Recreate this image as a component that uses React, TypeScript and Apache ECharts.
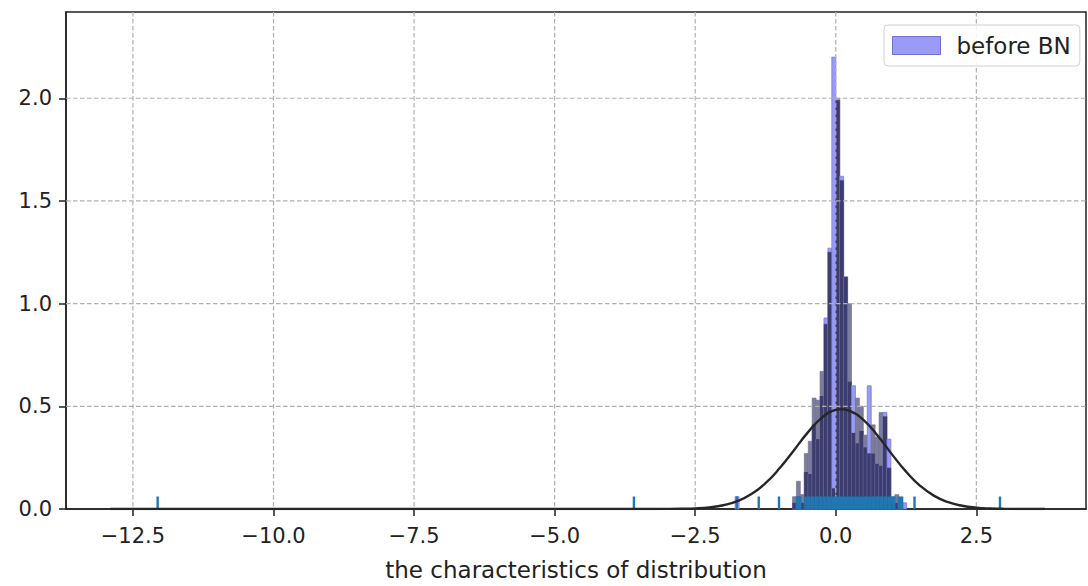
import React, { useEffect, useRef } from 'react';
import * as echarts from 'echarts';

const xTicks = [-12.5, -10, -7.5, -5, -2.5, 0, 2.5];
const yTicks = [0, 0.5, 1, 1.5, 2];
const binWidth = 0.07;
const binStarts = [
  -1.79,
  -0.77, -0.7, -0.63, -0.56, -0.49, -0.42, -0.35, -0.28, -0.21, -0.14, -0.07,
  0.0, 0.07, 0.14, 0.21, 0.28, 0.35, 0.42, 0.49, 0.56, 0.63, 0.7, 0.77, 0.84,
  0.91, 0.98, 1.05, 1.12, 1.19,
];
const blueHeights = [
  0.06,
  0.03, 0.06, 0.03, 0.18, 0.17, 0.41, 0.34, 0.55, 0.93, 1.27, 2.2,
  2.0, 1.62, 1.13, 0.62, 0.6, 0.32, 0.38, 0.3, 0.6, 0.27, 0.22, 0.21, 0.47,
  0.34, 0.04, 0.03, 0.03, 0.03,
];
const grayHeights = [
  0.0,
  0.06, 0.135, 0.07, 0.27, 0.33, 0.54, 0.53, 0.67, 0.9, 1.25, 0.1,
  1.99, 1.6, 1.13, 1.0, 0.37, 0.54, 0.5, 0.36, 0.27, 0.41, 0.35, 0.47, 0.45,
  0.2, 0.06, 0.07, 0.03, 0.0,
];
const rugValues = [
  -12.06, -3.59, -1.76, -1.37, -1.01,
  -0.69, -0.66, -0.63, -0.54, -0.5, -0.47, -0.43, -0.4, -0.36, -0.33, -0.29,
  -0.26, -0.22, -0.19, -0.15, -0.12, -0.08, -0.05, -0.01, 0.02, 0.06, 0.09,
  0.13, 0.16, 0.2, 0.23, 0.27, 0.3, 0.34, 0.38, 0.41, 0.45, 0.48, 0.52, 0.55,
  0.59, 0.62, 0.66, 0.69, 0.73, 0.76, 0.8, 0.83, 0.87, 0.9, 0.94, 0.97, 1.01,
  1.04, 1.12, 1.15, 1.18, 1.4, 2.92,
];
const fitX = [
  -12.9, -4.0, -3.5, -3.0, -2.75, -2.5, -2.25, -2.0, -1.75, -1.5, -1.25, -1.0,
  -0.75, -0.5, -0.25, 0.0, 0.1, 0.25, 0.5, 0.75, 1.0, 1.25, 1.5, 1.75, 2.0,
  2.25, 2.5, 2.75, 3.0, 3.5, 3.72,
];
const fitY = [
  0, 0, 0, 0.0004, 0.0012, 0.0032, 0.008, 0.0183, 0.0382, 0.0725, 0.1255, 0.198,
  0.284, 0.372, 0.444, 0.483, 0.4865, 0.478, 0.432, 0.355, 0.266, 0.182, 0.113,
  0.064, 0.0332, 0.0157, 0.0067, 0.0025, 0.0008, 0, 0,
];

const FONT = 'DejaVu Sans';
const TEXT = '#222222';
const fmt = (v: number) => (v < 0 ? '\u2212' : '') + Math.abs(v).toFixed(1);

export default function App() {
  const ref = useRef<HTMLDivElement>(null);
  useEffect(() => {
    document.body.style.margin = '0';
    if (!ref.current) return;
    const chart = echarts.init(ref.current, null, { renderer: 'svg' });
    const rectOf = (api: any, x0: number, h: number) => {
      const p0 = api.coord([x0, 0]);
      const p1 = api.coord([x0 + binWidth, h]);
      return { x: p0[0], y: p1[1], width: p1[0] - p0[0], height: p0[1] - p1[1] };
    };
    chart.setOption({
      animation: false,
      grid: {
        left: 66, top: 12, width: 1020, height: 501,
        show: true, borderColor: '#222', borderWidth: 1.5, backgroundColor: 'transparent',
      },
      legend: {
        left: 884, top: 25,
        padding: [9, 9, 9, 8],
        itemWidth: 48, itemHeight: 18,
        borderColor: '#d0d0d0', borderWidth: 1, borderRadius: 4,
        backgroundColor: 'rgba(255,255,255,0.85)',
        textStyle: { fontFamily: FONT, fontSize: 23, color: TEXT, padding: [0, 0, 0, 11] },
        data: [{ name: 'before BN', icon: 'rect', itemStyle: { color: '#9a9af8', borderColor: '#6f6fd0', borderWidth: 1 } }],
      },
      xAxis: {
        type: 'value', min: -13.69, max: 4.45,
        axisLine: { show: true, onZero: false, lineStyle: { color: '#222', width: 1.5 } },
        axisTick: { show: true, customValues: xTicks, length: 7, lineStyle: { color: '#222', width: 1.5 } },
        axisLabel: { customValues: xTicks, formatter: fmt, fontFamily: FONT, fontSize: 21, color: TEXT, margin: 16 },
        splitLine: { show: false },
        name: 'the characteristics of distribution',
        nameLocation: 'middle', nameGap: 49,
        nameTextStyle: { fontFamily: FONT, fontSize: 23, color: TEXT },
      },
      yAxis: {
        type: 'value', min: 0, max: 2.42,
        axisLine: { show: true, onZero: false, lineStyle: { color: '#222', width: 1.5 } },
        axisTick: { show: true, customValues: yTicks, length: 7, lineStyle: { color: '#222', width: 1.5 } },
        axisLabel: { customValues: yTicks, formatter: (v: number) => v.toFixed(1), fontFamily: FONT, fontSize: 21, color: TEXT, margin: 14 },
        splitLine: { show: false },
      },
      series: [
        {
          name: 'before BN', type: 'custom', z: 2,
          data: binStarts.map((x, i) => [x, blueHeights[i], grayHeights[i]]),
          renderItem: (params: any, api: any) => {
            const x0 = api.value(0), b = api.value(1), g = api.value(2);
            const children: any[] = [];
            if (b > 0) children.push({ type: 'rect', shape: rectOf(api, x0, b), style: { fill: '#9a9af8', stroke: '#7a7ad8', lineWidth: 0.8 } });
            if (g > 0) children.push({ type: 'rect', shape: rectOf(api, x0, g), style: { fill: '#7c7c9c', stroke: '#6c6c8c', lineWidth: 0.6 } });
            const m = Math.min(b, g);
            if (m > 0) children.push({ type: 'rect', shape: rectOf(api, x0, m), style: { fill: '#3c3c6e' } });
            return { type: 'group', children };
          },
        },
        {
          name: 'grid', type: 'custom', z: 3, silent: true,
          data: [
            ...xTicks.map((v) => [v, 0, 0]),
            ...yTicks.filter((v) => v > 0).map((v) => [0, v, 1]),
          ],
          renderItem: (params: any, api: any) => {
            const cs = params.coordSys;
            const kind = api.value(2);
            const style = { stroke: '#b0b0b0', lineWidth: 1.2, lineDash: [4.5, 2.5] };
            if (kind === 0) {
              const x = api.coord([api.value(0), 0])[0];
              return { type: 'line', shape: { x1: x, y1: cs.y, x2: x, y2: cs.y + cs.height }, style };
            }
            const y = api.coord([0, api.value(1)])[1];
            return { type: 'line', shape: { x1: cs.x, y1: y, x2: cs.x + cs.width, y2: y }, style };
          },
        },
        {
          name: 'rug', type: 'custom', z: 4, silent: true,
          data: rugValues.map((v) => [v, 0]),
          renderItem: (params: any, api: any) => {
            const p = api.coord([api.value(0), 0]);
            return { type: 'line', shape: { x1: p[0], y1: p[1], x2: p[0], y2: p[1] - 12.5 }, style: { stroke: '#1f77b4', lineWidth: 2.4 } };
          },
        },
        {
          name: 'fit', type: 'line', z: 5, silent: true,
          data: fitX.map((x, i) => [x, fitY[i]]),
          smooth: 0.5, showSymbol: false, symbol: 'none',
          lineStyle: { color: '#262626', width: 2.4 },
        },
      ],
    });
    return () => chart.dispose();
  }, []);
  return <div ref={ref} style={{ width: 1088, height: 586 }} />;
}
